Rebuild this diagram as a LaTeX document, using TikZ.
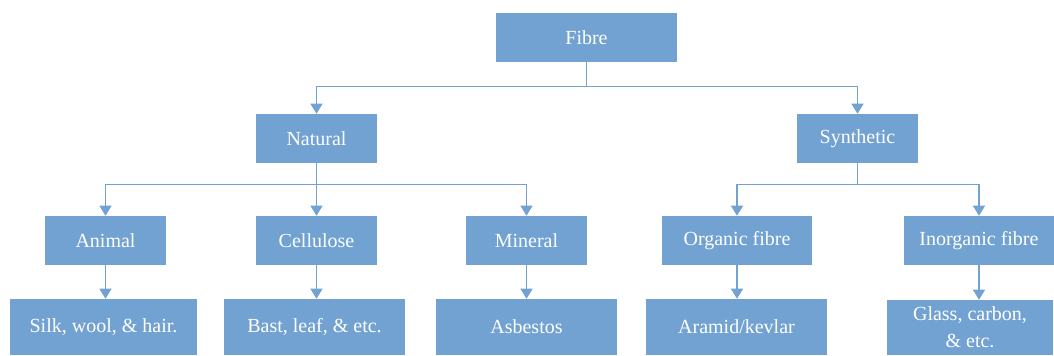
\documentclass[tikz,border=0pt]{standalone}
\usepackage{fontspec}
\setmainfont{Liberation Serif}
\usetikzlibrary{arrows.meta}
\definecolor{bleu}{RGB}{114,162,210}
\tikzstyle{boite} = [rectangle, fill=bleu, draw=none, text=white, minimum height=36.75pt, inner sep=0pt, align=center, font=\fontsize{15}{20}\selectfont]
\tikzstyle{fleche} = [draw=bleu, line width=0.8pt, -{Triangle[width=9pt,length=7.5pt]}]

\begin{document}
\begin{tikzpicture}[x=0.75pt, y=-0.75pt]
        \useasboundingbox (0,0) rectangle (1054,355);

        \node (fibre) [boite, minimum width=135.75pt] at (586.5,37.5) {Fibre};

        \node (natural) [boite, minimum width=90.75pt] at (316.5,138.5) {Natural};
        \node (synthetic) [boite, minimum width=90.75pt] at (857.5,138.5) {Synthetic};

        \node (animal) [boite, minimum width=90.75pt] at (105.5,240.5) {Animal};
        \node (cellulose) [boite, minimum width=90.75pt] at (316.5,240.5) {Cellulose};
        \node (mineral) [boite, minimum width=90.75pt] at (526.5,240.5) {Mineral};
        \node (organic) [boite, minimum width=112.5pt] at (737,240.5) {Organic fibre};
        \node (inorganic) [boite, minimum width=112.5pt] at (979,240.5) {Inorganic fibre};

        \node (silk) [boite, minimum width=140.25pt, minimum height=42pt] at (103.5,327) {Silk, wool, \& hair.};
        \node (bast) [boite, minimum width=135.75pt, minimum height=42pt] at (314.5,327) {Bast, leaf, \& etc.};
        \node (asbestos) [boite, minimum width=135.75pt, minimum height=42pt] at (526.5,327) {Asbestos};
        \node (aramid) [boite, minimum width=135.75pt, minimum height=42pt] at (736.5,327) {Aramid/kevlar};
        \node (glass) [boite, minimum width=124.5pt, minimum height=41.25pt] at (970,327.5) {Glass, carbon,\\ \& etc.};

        \draw[fleche] (fibre.south) -- ++(0,24) -| (natural.north);
        \draw[fleche] (fibre.south) -- ++(0,24) -| (synthetic.north);

        \draw[fleche] (natural.south) -- ++(0,21) -| (animal.north);
        \draw[fleche] (natural.south) -- ++(0,21) -| (cellulose.north);
        \draw[fleche] (natural.south) -- ++(0,21) -| (mineral.north);
        \draw[fleche] (synthetic.south) -- ++(0,21) -| (organic.north);
        \draw[fleche] (synthetic.south) -- ++(0,21) -| (inorganic.north);

        \draw[fleche] (animal.south) -- (animal.south |- silk.north);
        \draw[fleche] (cellulose.south) -- (cellulose.south |- bast.north);
        \draw[fleche] (mineral.south) -- (mineral.south |- asbestos.north);
        \draw[fleche] (organic.south) -- (organic.south |- aramid.north);
        \draw[fleche] (inorganic.south) -- (inorganic.south |- glass.north);

    \end{tikzpicture}
\end{document}
